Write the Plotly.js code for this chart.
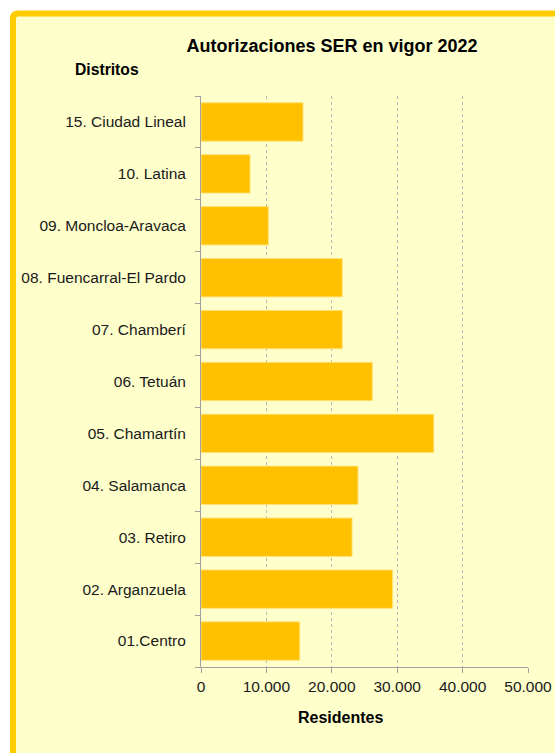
<!DOCTYPE html>
<html>
<head>
<meta charset="utf-8">
<script src="https://cdn.plot.ly/plotly-3.0.1.min.js"></script>
<style>html,body{margin:0;padding:0;background:#fff;}#chart{width:555px;height:753px;}</style>
</head>
<body>
<div id="chart"></div>
<script>
const distritos = ["01.Centro","02. Arganzuela","03. Retiro","04. Salamanca","05. Chamartín","06. Tetuán","07. Chamberí","08. Fuencarral-El Pardo","09. Moncloa-Aravaca","10. Latina","15. Ciudad Lineal"];
const residentes = [15100, 29300, 23100, 24000, 35600, 26200, 21600, 21600, 10300, 7500, 15600];
const xTicks = [0, 10000, 20000, 30000, 40000, 50000];

const W = 555, H = 753;
const L = 201, R = 27, T = 96, B = 86;
const pw = W - L - R, ph = H - T - B;
const px = v => (v - L) / pw;
const py = v => (H - B - v) / ph;

const x0 = px(13), yTop = py(13.5), x1 = px(600), yBot = py(800);
const rx = 5 / pw, ry = 5 / ph;
const borderPath = `M ${x0},${yBot} L ${x0},${yTop - ry} Q ${x0},${yTop} ${x0 + rx},${yTop} L ${x1},${yTop} L ${x1},${yBot} Z`;

const font = 'Liberation Sans, Arial, sans-serif';

const data = [{
  type: 'bar',
  orientation: 'h',
  y: distritos,
  x: residentes,
  marker: {color: '#FFC000', line: {color: '#FFE27A', width: 1}},
  hoverinfo: 'x+y'
}];

const layout = {
  width: W, height: H,
  margin: {l: L, r: R, t: T, b: B, pad: 0},
  paper_bgcolor: '#ffffff',
  plot_bgcolor: 'rgba(0,0,0,0)',
  separators: ',.',
  bargap: 0.26,
  showlegend: false,
  font: {family: font, color: '#1a1a1a'},
  title: {
    text: '<b>Autorizaciones SER en vigor 2022</b>',
    font: {family: font, size: 18, color: '#000'},
    xref: 'container', yref: 'container',
    x: 332 / W, y: 1 - 46 / H, xanchor: 'center', yanchor: 'middle'
  },
  xaxis: {
    range: [0, 50000],
    tickvals: xTicks,
    tickformat: ',d',
    ticks: 'outside', ticklen: 5, tickcolor: '#a0a0a0',
    showline: true, linecolor: '#a0a0a0', linewidth: 1,
    showgrid: true, gridcolor: '#b8b8b8', griddash: 'dot', gridwidth: 1,
    zeroline: false,
    tickfont: {size: 15.5, color: '#1a1a1a'},
    fixedrange: true
  },
  yaxis: {
    type: 'category',
    categoryorder: 'array', categoryarray: distritos,
    tickson: 'boundaries',
    ticks: 'outside', ticklen: 5, tickcolor: '#a0a0a0',
    showline: true, linecolor: '#a0a0a0', linewidth: 1,
    showgrid: false, zeroline: false,
    ticklabelstandoff: 11,
    tickfont: {size: 15.5, color: '#1a1a1a'},
    fixedrange: true
  },
  shapes: [{
    type: 'path', xref: 'paper', yref: 'paper', layer: 'below',
    path: borderPath,
    fillcolor: '#FFFFCC',
    line: {color: '#FFCC00', width: 6}
  }],
  annotations: [
    {text: '<b>Distritos</b>', xref: 'paper', yref: 'paper', x: px(107), y: py(69),
     xanchor: 'center', yanchor: 'middle', showarrow: false, font: {family: font, size: 15.7, color: '#000'}},
    {text: '<b>Residentes</b>', xref: 'paper', yref: 'paper', x: px(340), y: py(717),
     xanchor: 'center', yanchor: 'middle', showarrow: false, font: {family: font, size: 16, color: '#000'}}
  ]
};

Plotly.newPlot('chart', data, layout, {displayModeBar: false, staticPlot: true});
</script>
</body>
</html>
